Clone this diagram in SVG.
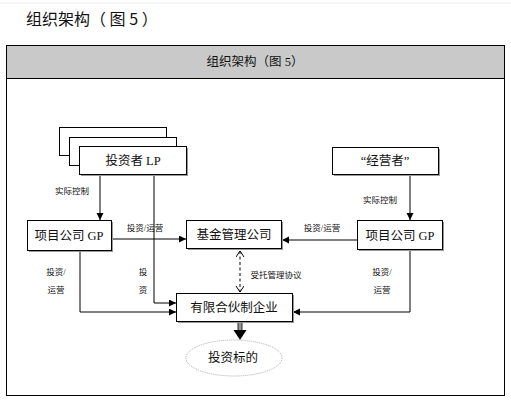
<svg xmlns="http://www.w3.org/2000/svg" width="511" height="401" viewBox="0 0 511 401">
<style>
.box{fill:#fff;stroke:#000;stroke-width:1}
.sh{fill:#9a9a9a}
.t{font-family:"Liberation Serif","Noto Sans CJK SC",serif;font-size:12.5px;fill:#111;text-anchor:middle}
.s{font-family:"Liberation Serif","Noto Sans CJK SC",serif;font-size:8.5px;fill:#111;text-anchor:middle}
.ln{fill:none;stroke:#000;stroke-width:1}
</style>
<defs>
<marker id="ah" markerUnits="userSpaceOnUse" markerWidth="8" markerHeight="8" refX="7" refY="3.5" orient="auto">
<path d="M0,0 L7,3.5 L0,7 z" fill="#000"/>
</marker>
<marker id="vh" markerUnits="userSpaceOnUse" markerWidth="8" markerHeight="10" refX="6" refY="4" orient="auto-start-reverse">
<path d="M0,0 L6,4 L0,8" fill="none" stroke="#000" stroke-width="1"/>
</marker>
</defs>
<rect width="511" height="401" fill="#fff"/>
<line x1="0" y1="3" x2="511" y2="3" stroke="#ececec" stroke-width="1"/>
<text x="26" y="25" font-family="Noto Sans CJK SC,sans-serif" font-size="16" fill="#111">组织架构（ 图 5 ）</text>
<g id="frame">
<rect x="6.5" y="45.5" width="498" height="350" fill="#fff" stroke="#000" stroke-width="1"/>
<rect x="6.5" y="45.5" width="498" height="33" fill="#c9c9c9" stroke="#000" stroke-width="1"/>
<text x="255" y="66" class="t" font-size="11">组织架构（图 5）</text>
</g>
<g id="connectors">
<path class="ln" d="M100,174 V220" marker-end="url(#ah)"/>
<path class="ln" d="M154,174 V303 H176" marker-end="url(#ah)"/>
<path class="ln" d="M111,239 H186" marker-end="url(#ah)"/>
<path class="ln" d="M80,251 V312 H176" marker-end="url(#ah)"/>
<path class="ln" d="M410,174 V220" marker-end="url(#ah)"/>
<path class="ln" d="M357,240 H282" marker-end="url(#ah)"/>
<path class="ln" d="M410,250 V312 H293" marker-end="url(#ah)"/>
<path class="ln" d="M240,251 V292" stroke-dasharray="3,2.5" marker-start="url(#vh)" marker-end="url(#vh)"/>
<rect x="238" y="322" width="4" height="9" fill="#999" stroke="#000" stroke-width="0.8"/>
<polygon points="233.5,330 246.5,330 240,340" fill="#000"/>
<text class="s" x="72" y="194">实际控制</text>
<text class="s" x="380" y="203">实际控制</text>
<text class="s" x="145" y="231">投资/运营</text>
<text class="s" x="322" y="231">投资/运营</text>
<text class="s" x="56" y="275">投资/</text>
<text class="s" x="56" y="293">运营</text>
<text class="s" x="143" y="275">投</text>
<text class="s" x="143" y="293">资</text>
<text class="s" x="276" y="278">受托管理协议</text>
<text class="s" x="382" y="275">投资/</text>
<text class="s" x="382" y="293">运营</text>
</g>
<g id="investor-lp">
<rect class="box" x="59.5" y="127.5" width="107" height="28"/>
<rect class="box" x="69.5" y="137.5" width="107" height="28"/>
<rect class="sh" x="81" y="148" width="107" height="28"/>
<rect class="box" x="79.5" y="146.5" width="107" height="28"/>
<text class="t" x="133" y="165">投资者 LP</text>
</g>
<g id="operator">
<rect class="sh" x="334" y="149" width="106" height="27"/>
<rect class="box" x="332.5" y="147.5" width="106" height="27"/>
<text class="t" x="385" y="165">“经营者”</text>
</g>
<g id="gp-left">
<rect class="sh" x="29" y="222" width="84" height="30"/>
<rect class="box" x="27.5" y="220.5" width="84" height="30"/>
<text class="t" x="69" y="240">项目公司 GP</text>
</g>
<g id="fund-mgmt">
<rect class="sh" x="188" y="222" width="95" height="28"/>
<rect class="box" x="186.5" y="220.5" width="95" height="28"/>
<text class="t" x="234" y="239">基金管理公司</text>
</g>
<g id="gp-right">
<rect class="sh" x="359" y="222" width="85" height="29"/>
<rect class="box" x="357.5" y="220.5" width="85" height="29"/>
<text class="t" x="400" y="240">项目公司 GP</text>
</g>
<g id="lp-enterprise">
<rect class="sh" x="178" y="295" width="116" height="28"/>
<rect class="box" x="176.5" y="293.5" width="116" height="28"/>
<text class="t" x="234" y="312">有限合伙制企业</text>
</g>
<g id="target">
<ellipse cx="234" cy="358" rx="48" ry="18" fill="#fff" stroke="#999" stroke-width="0.8" stroke-dasharray="1,1"/>
<text class="t" x="233" y="362">投资标的</text>
</g>
</svg>
